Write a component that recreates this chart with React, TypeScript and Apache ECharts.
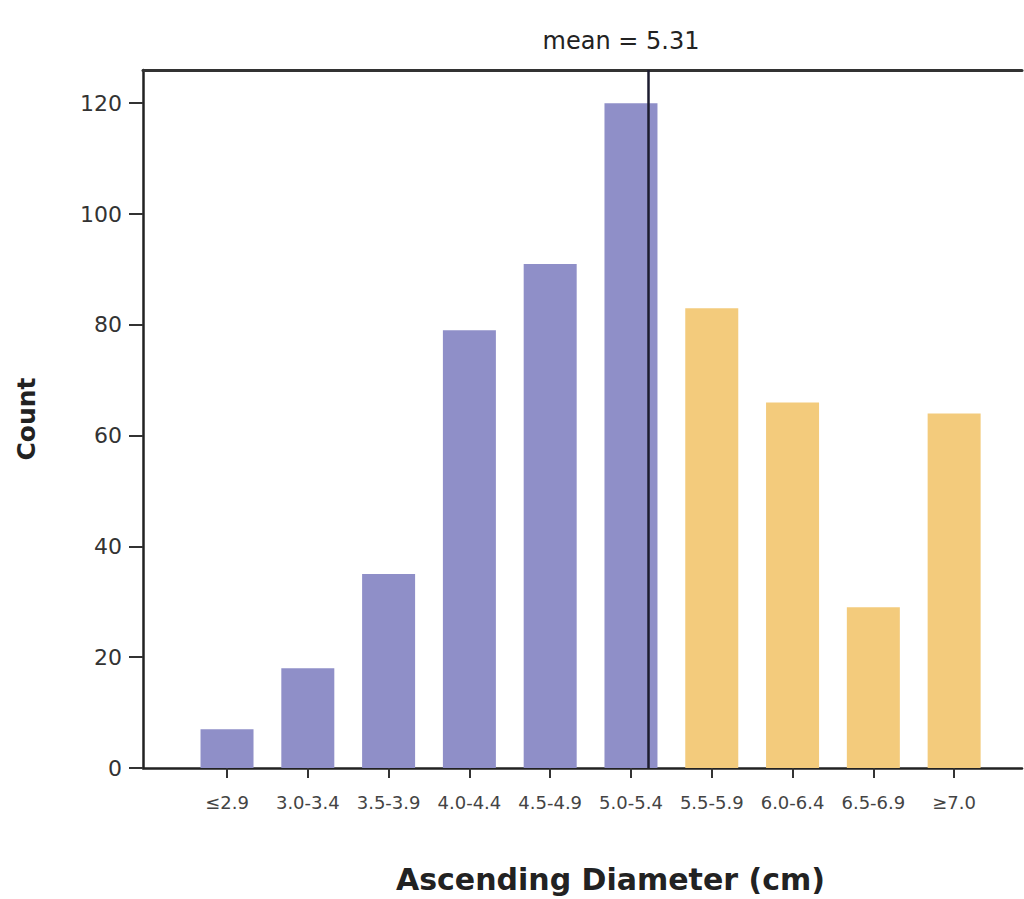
import React, { useEffect, useRef } from "react";
import * as echarts from "echarts";

const categories = ["≤2.9", "3.0-3.4", "3.5-3.9", "4.0-4.4", "4.5-4.9", "5.0-5.4", "5.5-5.9", "6.0-6.4", "6.5-6.9", "≥7.0"];
const counts = [7, 18, 35, 79, 91, 120, 83, 66, 29, 64];
const yTicks = [0, 20, 40, 60, 80, 100, 120];
const meanValue = 5.31;
// bin midpoints for positioning the mean line (index 5 = 5.0-5.4, midpoint 5.2, bin width 0.5)
const refIndex = 5;
const refMid = 5.2;
const binWidth = 0.5;

const PURPLE = "#8f8fc8";
const YELLOW = "#f3cb7c";
const FONT = "DejaVu Sans, sans-serif";

export default function App() {
  const ref = useRef<HTMLDivElement>(null);
  useEffect(() => {
    if (!ref.current) return;
    const chart = echarts.init(ref.current, undefined, { renderer: "svg" });
    const meanIdx = refIndex + (meanValue - refMid) / binWidth;
    const idxs = categories.map((_, i) => i);
    chart.setOption({
      animation: false,
      backgroundColor: "#ffffff",
      title: {
        text: "mean = " + meanValue.toFixed(2),
        left: 616,
        top: 24,
        textAlign: "center",
        textStyle: { fontFamily: FONT, fontSize: 24, fontWeight: "normal", color: "#222" },
      },
      grid: { left: 143, right: 2, top: 70, bottom: 127 },
      xAxis: [
        {
          type: "value",
          min: -1.04,
          max: 9.84,
          splitLine: { show: false },
          axisLine: { show: true, onZero: false, lineStyle: { color: "#222", width: 2.5 } },
          axisTick: { show: true, customValues: idxs, length: 10, lineStyle: { color: "#333", width: 2 } },
          axisLabel: {
            customValues: idxs,
            formatter: (v: number) => categories[Math.round(v)] ?? "",
            margin: 25,
            fontFamily: FONT,
            fontSize: 18,
            color: "#444",
          },
          name: "Ascending Diameter (cm)",
          nameLocation: "middle",
          nameGap: 96,
          nameTextStyle: { fontFamily: FONT, fontSize: 30, fontWeight: "bold", color: "#222", padding: [0, 0, 0, 56] },
        },
        {
          type: "value",
          position: "top",
          min: -1.04,
          max: 9.84,
          splitLine: { show: false },
          axisLine: { show: true, onZero: false, lineStyle: { color: "#333", width: 3 } },
          axisTick: { show: false },
          axisLabel: { show: false },
        },
      ],
      yAxis: {
        type: "value",
        min: 0,
        max: 126,
        splitLine: { show: false },
        axisLine: { show: true, onZero: false, lineStyle: { color: "#222", width: 2.5 } },
        axisTick: { show: true, customValues: yTicks, length: 14, lineStyle: { color: "#333", width: 2 } },
        axisLabel: { customValues: yTicks, margin: 21, fontFamily: FONT, fontSize: 22, color: "#333" },
        name: "Count",
        nameLocation: "middle",
        nameGap: 104,
        nameRotate: 90,
        nameTextStyle: { fontFamily: FONT, fontSize: 25, fontWeight: "bold", color: "#222", padding: [0, 0, 0, 0] },
      },
      series: [
        {
          type: "bar",
          xAxisIndex: 0,
          barWidth: 53,
          data: counts.map((v, i) => ({
            value: [i, v],
            itemStyle: { color: i <= refIndex ? PURPLE : YELLOW },
          })),
          markLine: {
            silent: true,
            symbol: "none",
            label: { show: false },
            lineStyle: { color: "#1c1c30", width: 2.5, type: "solid" },
            data: [{ xAxis: meanIdx }],
          },
        },
      ],
    });
    return () => chart.dispose();
  }, []);
  return <div ref={ref} style={{ position: "fixed", left: 0, top: 0, width: 1024, height: 899 }} />;
}
